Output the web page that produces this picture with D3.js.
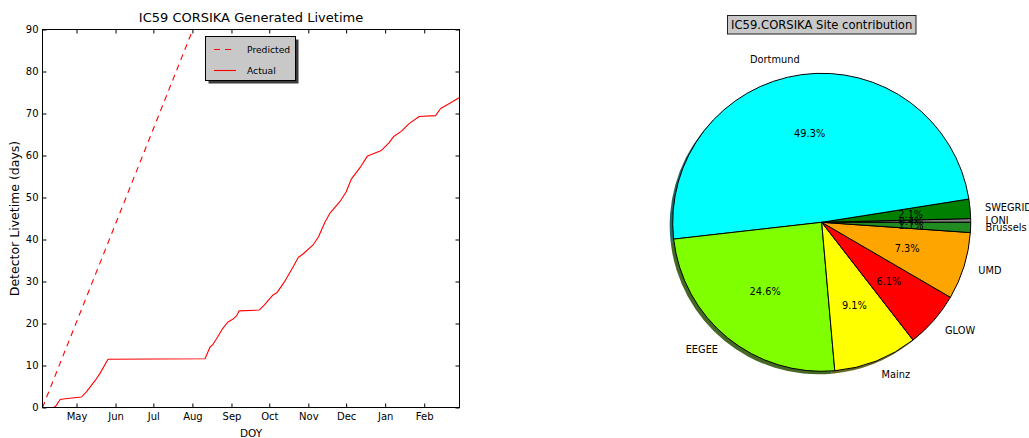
<!DOCTYPE html>
<html>
<head>
<meta charset="utf-8">
<script src="https://cdn.jsdelivr.net/npm/d3@7"></script>
<style>
  html, body { margin: 0; padding: 0; background: #fff; }
  svg { display: block; font-family: "DejaVu Sans", sans-serif; }
</style>
</head>
<body>
<svg id="fig" width="1029" height="438"></svg>
<script>
// ---- Livetime data (cumulative detector livetime, days) ----
const actualDates = ["2009-04-04","2009-04-13","2009-04-15","2009-04-18","2009-04-22","2009-05-05","2009-05-09","2009-05-16","2009-05-20","2009-05-26",
  "2009-08-11","2009-08-15","2009-08-17","2009-08-21","2009-08-25","2009-08-29","2009-09-02","2009-09-05","2009-09-07","2009-09-23",
  "2009-09-27","2009-10-04","2009-10-07","2009-10-13","2009-10-20","2009-10-24","2009-10-28","2009-11-05","2009-11-09","2009-11-14",
  "2009-11-18","2009-11-22","2009-11-26","2009-12-01","2009-12-05","2009-12-12","2009-12-18","2009-12-29","2010-01-04","2010-01-08",
  "2010-01-14","2010-01-20","2010-01-28","2010-02-10","2010-02-14","2010-02-21","2010-03-01"];
const actualDays = [0,0,0.5,1.9,2.1,2.5,3.8,6.5,8.3,11.5,
  11.6,14.4,14.9,16.8,18.8,20.3,21.0,21.8,23.0,23.2,
  24.4,26.8,27.3,29.9,33.5,35.7,36.6,38.8,40.6,44.0,
  46.2,47.6,49.0,51.3,54.3,57.1,59.9,61.2,63.0,64.6,
  65.8,67.6,69.3,69.5,71.2,72.4,73.8];
const predictedDates = ["2009-04-04","2010-03-01"];
const predictedDays = [0, 249.6];

const dateRange = ["2009-04-04","2010-03-01"];
const monthTicks = ["2009-05-01","2009-06-01","2009-07-01","2009-08-01","2009-09-01","2009-10-01","2009-11-01","2009-12-01","2010-01-01","2010-02-01"];
const yTicks = [0,10,20,30,40,50,60,70,80,90];

// ---- Site contribution data (percent) ----
const siteNames  = ["LONI","SWEGRID","Dortmund","EEGEE","Mainz","GLOW","UMD","Brussels"];
const siteShares = [0.4, 2.1, 49.3, 24.6, 9.1, 6.1, 7.3, 1.1];
const siteColors = ["#808080","#008000","#00ffff","#7fff00","#ffff00","#ff0000","#ffa500","#228b22"];

const parse = d3.timeParse("%Y-%m-%d");
const svg = d3.select("#fig");

// ================= Left panel: livetime vs date =================
const L = {left: 42.5, right: 459.5, top: 29.5, bottom: 407.5};
const x = d3.scaleTime().domain(dateRange.map(parse)).range([L.left, L.right]);
const y = d3.scaleLinear().domain([0, 90]).range([L.bottom, L.top]);

svg.append("defs").append("clipPath").attr("id", "plotClip")
  .append("rect").attr("x", L.left).attr("y", L.top)
  .attr("width", L.right - L.left).attr("height", L.bottom - L.top);

const line = d3.line().x(d => x(d[0])).y(d => y(d[1]));
const predicted = predictedDates.map((d, i) => [parse(d), predictedDays[i]]);
const actual = actualDates.map((d, i) => [parse(d), actualDays[i]]);

const plot = svg.append("g").attr("clip-path", "url(#plotClip)");
plot.append("path").datum(predicted).attr("d", line)
  .attr("fill", "none").attr("stroke", "#ff0000").attr("stroke-width", 1.1)
  .attr("stroke-dasharray", "6,5");
plot.append("path").datum(actual).attr("d", line)
  .attr("fill", "none").attr("stroke", "#ff0000").attr("stroke-width", 1.1)
  .attr("stroke-linejoin", "round");

// axes with inward ticks on all four sides
const tickDates = monthTicks.map(parse);
const fmt = d3.timeFormat("%b");
function styleAxis(g) {
  g.select(".domain").remove();
  g.selectAll(".tick line").attr("stroke", "#000");
  g.selectAll(".tick text").attr("fill", "#000").style("font-size", "10px")
    .style("font-family", "DejaVu Sans");
}
svg.append("g").attr("transform", `translate(0,${L.bottom})`)
  .call(d3.axisBottom(x).tickValues(tickDates).tickFormat(fmt).tickSizeInner(-4).tickSizeOuter(0).tickPadding(5))
  .call(styleAxis);
svg.append("g").attr("transform", `translate(0,${L.top})`)
  .call(d3.axisTop(x).tickValues(tickDates).tickFormat("").tickSizeInner(-4).tickSizeOuter(0))
  .call(styleAxis);
svg.append("g").attr("transform", `translate(${L.left},0)`)
  .call(d3.axisLeft(y).tickValues(yTicks).tickFormat(d3.format("d")).tickSizeInner(-4).tickSizeOuter(0).tickPadding(4))
  .call(styleAxis);
svg.append("g").attr("transform", `translate(${L.right},0)`)
  .call(d3.axisRight(y).tickValues(yTicks).tickFormat("").tickSizeInner(-4).tickSizeOuter(0))
  .call(styleAxis);

svg.append("rect").attr("x", L.left).attr("y", L.top)
  .attr("width", L.right - L.left).attr("height", L.bottom - L.top)
  .attr("fill", "none").attr("stroke", "#000").attr("stroke-width", 1);

svg.append("text").attr("x", (L.left + L.right) / 2).attr("y", 17.5)
  .attr("text-anchor", "middle").attr("dominant-baseline", "central")
  .style("font-size", "13px").text("IC59 CORSIKA Generated Livetime");
svg.append("text").attr("x", (L.left + L.right) / 2).attr("y", 433)
  .attr("text-anchor", "middle").attr("dominant-baseline", "central")
  .style("font-size", "10.5px").text("DOY");
svg.append("text").attr("transform", `translate(14,${(L.top + L.bottom) / 2}) rotate(-90)`)
  .attr("text-anchor", "middle").attr("dominant-baseline", "central")
  .style("font-size", "12.5px").text("Detector Livetime (days)");

// legend
const leg = svg.append("g");
leg.append("rect").attr("x", 208.5).attr("y", 39.5).attr("width", 90).attr("height", 44)
  .attr("fill", "#3a3a3a");
leg.append("rect").attr("x", 205.5).attr("y", 36.5).attr("width", 90).attr("height", 44)
  .attr("fill", "#c8c8c8").attr("stroke", "#000").attr("stroke-width", 1);
const legItems = [{label: "Predicted", dash: "6,5", y: 49.5}, {label: "Actual", dash: null, y: 70.5}];
legItems.forEach(it => {
  leg.append("line").attr("x1", 214).attr("x2", 236).attr("y1", it.y).attr("y2", it.y)
    .attr("stroke", "#ff0000").attr("stroke-width", 1.1)
    .attr("stroke-dasharray", it.dash);
  leg.append("text").attr("x", 247).attr("y", it.y).attr("dominant-baseline", "central")
    .style("font-size", "9.2px").text(it.label);
});

// ================= Right panel: site contribution pie =================
const cx = 821.7, cy = 222.3, R = 149;
const total = d3.sum(siteShares);
// counter-clockwise from 3 o'clock
const pie = d3.pie().sort(null).value(d => d)
  .startAngle(Math.PI / 2).endAngle(Math.PI / 2 - 2 * Math.PI);
const arcs = pie(siteShares);
const arc = d3.arc().innerRadius(0).outerRadius(R);
const darker = c => { const k = d3.rgb(c); return d3.rgb(k.r * 0.3, k.g * 0.3, k.b * 0.3); };

const pg = svg.append("g").attr("transform", `translate(${cx},${cy})`);
pg.append("g").attr("transform", "translate(-3,3)")
  .selectAll("path").data(arcs).join("path")
  .attr("d", arc).attr("fill", (d, i) => darker(siteColors[i])).attr("opacity", 0.85);
pg.append("g").selectAll("path").data(arcs).join("path")
  .attr("d", arc).attr("fill", (d, i) => siteColors[i])
  .attr("stroke", "#000").attr("stroke-width", 1).attr("stroke-linejoin", "round");

const mid = d => (d.startAngle + d.endAngle) / 2;
pg.append("g").selectAll("text").data(arcs).join("text")
  .attr("x", d => Math.sin(mid(d)) * R * 0.6)
  .attr("y", d => -Math.cos(mid(d)) * R * 0.6)
  .attr("text-anchor", "middle").attr("dominant-baseline", "central")
  .style("font-size", "9.8px")
  .text(d => (d.value / total * 100).toFixed(1) + "%");
pg.append("g").selectAll("text").data(arcs).join("text")
  .attr("x", d => Math.sin(mid(d)) * R * 1.1)
  .attr("y", d => -Math.cos(mid(d)) * R * 1.1)
  .attr("text-anchor", d => Math.sin(mid(d)) > 0 ? "start" : "end")
  .attr("dominant-baseline", "central")
  .style("font-size", "9.8px")
  .text((d, i) => siteNames[i]);

svg.append("rect").attr("x", 727.5).attr("y", 15.5).attr("width", 188.5).attr("height", 18.5)
  .attr("fill", "#c8c8c8").attr("stroke", "#222").attr("stroke-width", 1);
svg.append("text").attr("x", cx).attr("y", 25)
  .attr("text-anchor", "middle").attr("dominant-baseline", "central")
  .style("font-size", "11.6px").text("IC59.CORSIKA Site contribution");
</script>
</body>
</html>
